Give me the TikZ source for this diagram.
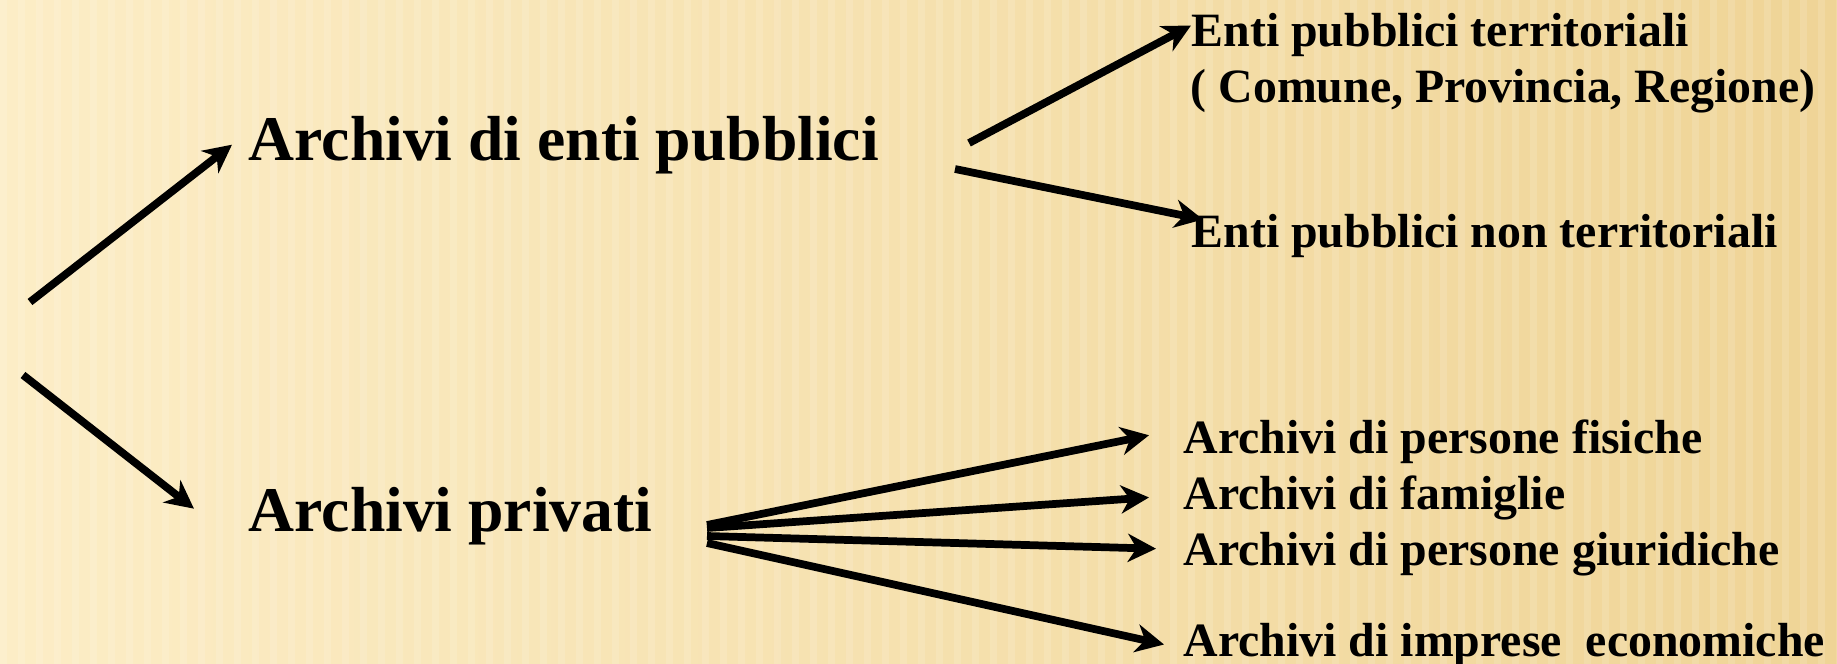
\documentclass[tikz,border=0pt]{standalone}
\usepackage{fontspec}
\setmainfont{Liberation Serif}
\usepackage{tikz}
\usetikzlibrary{arrows.meta}
\definecolor{paperL}{RGB}{252,237,198}
\definecolor{paperR}{RGB}{239,212,150}
\tikzset{
  bigtxt/.style={anchor=base west,inner sep=0pt,font=\fontsize{18.1}{21}\selectfont\bfseries},
  smalltxt/.style={anchor=base west,inner ysep=0pt,inner xsep=0.34cm,font=\fontsize{13.6}{15.9}\selectfont\bfseries},
  link/.style={line width=2.2pt,-{Stealth[length=8pt,width=8pt,inset=2.5pt]}}
}
\begin{document}
\begin{tikzpicture}[x=0.01cm,y=-0.01cm]
  \useasboundingbox (0,0) rectangle (1837,664);
  % ---------------- background: warm paper with faint vertical stripes
  \shade[left color=paperL,right color=paperR] (0,0) rectangle (1837,664);
  \foreach \i in {0,...,102}
    \fill[white,opacity=0.13] (\i*18,0) rectangle ++(7,664);
  % ---------------- first level
  \node[bigtxt] (pub) at (248,160) {Archivi di enti pubblici};
  \node[bigtxt] (priv) at (248,531) {Archivi privati};
  \coordinate (root1) at (30,302);
  \coordinate (root2) at (23,375);
  \draw[link] (root1) -- ([xshift=-0.16cm]pub.west);
  \draw[link] (root2) -- ([xshift=-0.54cm,yshift=0.07cm]priv.west);
  % ---------------- public bodies
  \node[smalltxt,inner xsep=0pt] (terr) at (1191,47) {Enti pubblici territoriali};
  \node[smalltxt,inner xsep=0pt] (terrx) at (1190,103) {( Comune, Provincia, Regione)};
  \node[smalltxt,inner xsep=0pt] (nonterr) at (1191,248) {Enti pubblici non territoriali};
  \coordinate (pubout1) at (969,143);
  \coordinate (pubout2) at (955,169);
  \draw[link] (pubout1) -- ([yshift=0.1cm]terr.west);
  \draw[link] (pubout2) -- ([xshift=0.12cm,yshift=0.17cm]nonterr.west);
  % ---------------- private archives
  \node[smalltxt] (fis) at (1149,453) {Archivi di persone fisiche};
  \node[smalltxt] (fam) at (1149,509) {Archivi di famiglie};
  \node[smalltxt] (giu) at (1149,565) {Archivi di persone giuridiche};
  \node[smalltxt] (imp) at (1149,656) {Archivi di imprese~ economiche};
  \coordinate (privout) at (707,525);
  \draw[link] (privout) -- ([yshift=0.06cm]fis.west);
  \draw[link] ([yshift=-0.03cm]privout) -- (fam.west);
  \draw[link] ([yshift=-0.11cm]privout) -- ([xshift=0.07cm,yshift=0.05cm]giu.west);
  \draw[link] ([yshift=-0.18cm]privout) -- ([xshift=0.15cm]imp.west);
\end{tikzpicture}
\end{document}
